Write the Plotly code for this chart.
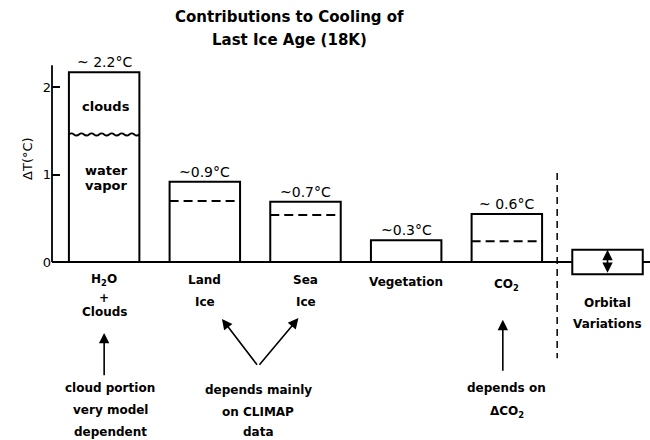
import plotly.graph_objects as go

# ---- data ----
categories = ["H2O + Clouds", "Land Ice", "Sea Ice", "Vegetation", "CO2"]
cooling = [2.17, 0.92, 0.69, 0.25, 0.55]          # total bar heights (deg C)
value_labels = ["~ 2.2°C", "~0.9°C", "~0.7°C", "~0.3°C", "~ 0.6°C"]
inner_split = [None, 0.70, 0.54, None, 0.24]        # dashed divisions
water_vapor_part = [1.46]                           # wavy divide in H2O bar
orbital_range = [-0.14, 0.14]                       # orbital variations band
cat_pos = [0, 1, 2, 3, 4]
orbital_pos = 5
BW = 0.7

FONT = "DejaVu Sans"
fig = go.Figure()

# main bars
fig.add_trace(go.Bar(x=cat_pos, y=cooling, width=BW,
                     marker=dict(color="white", line=dict(color="black", width=2)),
                     hoverinfo="skip"))
# orbital band
fig.add_trace(go.Bar(x=[orbital_pos], y=[orbital_range[1] - orbital_range[0]],
                     base=[orbital_range[0]], width=BW,
                     marker=dict(color="white", line=dict(color="black", width=2)),
                     hoverinfo="skip"))
# dashed subdivisions
for xi, v in zip(cat_pos, inner_split):
    if v is None:
        continue
    fig.add_trace(go.Scatter(x=[xi - BW / 2, xi + BW / 2], y=[v, v], mode="lines",
                             line=dict(color="black", width=2, dash="9px,5px"),
                             hoverinfo="skip"))

# wavy divide between clouds and water vapor
yw = water_vapor_part[0]
x0, x1 = cat_pos[0] - BW / 2, cat_pos[0] + BW / 2
n = 7
step = (x1 - x0) / n
amp = 0.025
path = f"M {x0},{yw}"
for k in range(n):
    xa = x0 + step * k
    path += f" Q {xa + step/4},{yw + amp} {xa + step/2},{yw} T {xa + step},{yw}"
fig.add_shape(type="path", path=path, xref="x", yref="y",
              line=dict(color="black", width=1.8))

# y axis line
fig.add_shape(type="line", xref="paper", yref="y", x0=0, x1=0, y0=0, y1=2.25,
              line=dict(color="black", width=1.8))
# vertical dashed separator
fig.add_shape(type="line", xref="x", yref="y", x0=4.5, x1=4.5, y0=1.02, y1=-1.10,
              line=dict(color="black", width=1.5, dash="7px,5px"))

ann = []
def txt(x, y, s, size=12, bold=True, xref="x", yref="y", **kw):
    t = f"<b>{s}</b>" if bold else s
    d = dict(x=x, y=y, xref=xref, yref=yref, text=t, showarrow=False,
             xanchor="center", yanchor="middle",
             font=dict(family=FONT, size=size, color="black"))
    d.update(kw)
    ann.append(d)

# value labels
for xi, v, lab in zip(cat_pos, cooling, value_labels):
    txt(xi, v, lab, size=14, bold=False, yshift=10)

# inside H2O bar
txt(0.02, 1.78, "clouds", size=13)
txt(0.02, 1.05, "water", size=13)
txt(0.02, 0.88, "vapor", size=13)

# category labels
txt(0, -0.21, "H<sub>2</sub>O")
txt(0, -0.41, "+")
txt(0, -0.57, "Clouds")
txt(1, -0.21, "Land")
txt(1, -0.46, "Ice")
txt(2, -0.21, "Sea")
txt(2, -0.46, "Ice")
txt(3, -0.23, "Vegetation")
txt(4, -0.26, "CO<sub>2</sub>")
txt(orbital_pos, -0.47, "Orbital")
txt(orbital_pos, -0.71, "Variations")

# notes
txt(0.06, -1.44, "cloud portion")
txt(0.06, -1.69, "very model")
txt(0.06, -1.94, "dependent")
txt(1.53, -1.46, "depends mainly")
txt(1.53, -1.71, "on CLIMAP")
txt(1.53, -1.94, "data")
txt(4.0, -1.44, "depends on")
txt(4.0, -1.71, "ΔCO<sub>2</sub>")

# arrows
def arrow(xh, yh, xt, yt, side="end"):
    ann.append(dict(x=xh, y=yh, ax=xt, ay=yt, xref="x", yref="y", axref="x", ayref="y",
                    showarrow=True, arrowhead=2, arrowsize=1.3, arrowwidth=1.6,
                    arrowcolor="black", arrowside=side, text=""))

arrow(0, -0.81, 0, -1.31)
arrow(1.17, -0.65, 1.53, -1.19)
arrow(1.93, -0.64, 1.53, -1.19)
arrow(3.96, -0.66, 3.96, -1.26)
arrow(orbital_pos, orbital_range[1], orbital_pos, orbital_range[0], side="end+start")

# title and y title
txt(0.397, 1.117, "Contributions to Cooling of", size=15, bold=True,
    xref="paper", yref="paper")
txt(0.397, 1.056, "Last Ice Age (18K)", size=15, bold=True,
    xref="paper", yref="paper")
txt(-0.042, 0.742, "ΔT(°C)", size=13, bold=False, xref="paper", yref="paper",
    textangle=-90)

fig.update_layout(
    width=650, height=440,
    margin=dict(l=52, r=0, t=61, b=3),
    paper_bgcolor="white", plot_bgcolor="white",
    showlegend=False, barmode="overlay",
    annotations=ann,
    xaxis=dict(range=[-0.518, 5.422], showgrid=False, zeroline=False,
               showticklabels=False, ticks="", showline=False),
    yaxis=dict(range=[-2.0, 2.3], showgrid=False, zeroline=True,
               zerolinecolor="black", zerolinewidth=2,
               tickvals=[0, 1, 2], ticktext=["0", "1", "2"],
               ticks="inside", ticklen=8, tickwidth=1.5, tickcolor="black",
               tickfont=dict(family=FONT, size=13, color="black"),
               showline=False),
)

fig.write_html("out.html", config={"displayModeBar": False},
               post_script="document.body.style.margin='0';")
